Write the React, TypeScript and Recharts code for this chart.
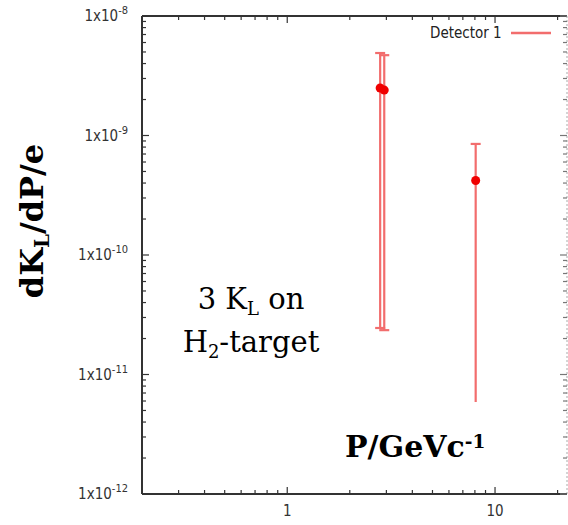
import React from "react";
import {
  ScatterChart,
  Scatter,
  XAxis,
  YAxis,
  ErrorBar,
  ReferenceLine,
} from "recharts";

// ---------- data ----------

const momentum = [2.8, 2.93, 8.07];
const flux = [2.5e-9, 2.4e-9, 4.2e-10];
const fluxHigh = [4.9e-9, 4.7e-9, 8.5e-10];
const fluxLow = [2.45e-11, 2.35e-11, 3e-12];

const xTicks = [0.3, 0.4, 0.5, 0.6, 0.7, 0.8, 0.9, 1, 2, 3, 4, 5, 6, 7, 8, 9, 10, 20];
const yDecades = [1e-12, 1e-11, 1e-10, 1e-9, 1e-8];
const yTicks = yDecades.flatMap((d, i) =>
  i === yDecades.length - 1 ? [d] : [1, 2, 3, 4, 5, 6, 7, 8, 9].map((m) => m * d)
);

const X_DOMAIN = [0.2, 22.2];
const Y_DOMAIN = [1e-12, 1e-8];

// ---------- layout ----------

const W = 568;
const H = 525;
const PLOT_LEFT = 142;
const PLOT_TOP = 16;
const PLOT_RIGHT = 567;
const PLOT_BOTTOM = 494;
const Y_AXIS_W = 60;
const X_AXIS_H = 30;

const ERR_COLOR = "#f26d6d";
const DOT_COLOR = "#f00000";
const AXIS_COLOR = "#333";
const TICK_FONT = "'DejaVu Sans Condensed', 'DejaVu Sans', sans-serif";

const data = momentum.map((p, i) => ({
  p,
  flux: flux[i],
  err: [flux[i] - fluxLow[i], fluxHigh[i] - flux[i]],
}));

const isMajor = (v: number) => {
  const l = Math.log10(v);
  return Math.abs(l - Math.round(l)) < 1e-6;
};

function XTick({ x, payload }: any) {
  const major = isMajor(payload.value);
  const len = major ? 7 : 4;
  return (
    <g>
      <line x1={x} x2={x} y1={PLOT_BOTTOM} y2={PLOT_BOTTOM - len} stroke={AXIS_COLOR} strokeWidth={1.2} />
      <line x1={x} x2={x} y1={PLOT_TOP} y2={PLOT_TOP + len} stroke={AXIS_COLOR} strokeWidth={1.2} />
      {major && (
        <text x={x} y={PLOT_BOTTOM + 22} textAnchor="middle" fontSize={15} fill="#333" fontFamily={TICK_FONT}>
          {payload.value}
        </text>
      )}
    </g>
  );
}

function YTick({ y, payload }: any) {
  const major = isMajor(payload.value);
  const len = major ? 7 : 4;
  const exp = Math.round(Math.log10(payload.value));
  return (
    <g>
      <line x1={PLOT_LEFT} x2={PLOT_LEFT + len} y1={y} y2={y} stroke={AXIS_COLOR} strokeWidth={1.2} />
      <line x1={PLOT_RIGHT} x2={PLOT_RIGHT - len} y1={y} y2={y} stroke="#777" strokeWidth={1.2} />
      {major && (
        <text x={128} y={y + 5} textAnchor="end" fontSize={15} fill="#333" fontFamily={TICK_FONT}>
          1x10
          <tspan dy={-7} fontSize={11}>
            {exp}
          </tspan>
        </text>
      )}
    </g>
  );
}

export default function App() {
  return (
    <div style={{ position: "absolute", left: 0, top: 0, width: W, height: H, background: "#fff" }}>
      <ScatterChart
        width={W}
        height={H}
        margin={{
          top: PLOT_TOP,
          right: W - PLOT_RIGHT,
          bottom: H - PLOT_BOTTOM - X_AXIS_H,
          left: PLOT_LEFT - Y_AXIS_W,
        }}
      >
        <XAxis
          type="number"
          dataKey="p"
          scale="log"
          domain={X_DOMAIN}
          ticks={xTicks}
          interval={0}
          allowDataOverflow
          height={X_AXIS_H}
          tickLine={false}
          axisLine={{ stroke: AXIS_COLOR, strokeWidth: 2 }}
          tick={<XTick />}
        />
        <YAxis
          type="number"
          dataKey="flux"
          scale="log"
          domain={Y_DOMAIN}
          ticks={yTicks}
          interval={0}
          allowDataOverflow
          width={Y_AXIS_W}
          tickLine={false}
          axisLine={{ stroke: AXIS_COLOR, strokeWidth: 2 }}
          tick={<YTick />}
        />
        <ReferenceLine y={Y_DOMAIN[1]} stroke={AXIS_COLOR} strokeWidth={2} />
        <ReferenceLine x={X_DOMAIN[1]} stroke="#aaa" strokeDasharray="2 2" />
        <Scatter
          data={data}
          fill={DOT_COLOR}
          isAnimationActive={false}
          shape={(props: any) => <circle cx={props.cx} cy={props.cy} r={4.5} fill={DOT_COLOR} />}
        >
          <ErrorBar dataKey="err" direction="y" stroke={ERR_COLOR} strokeWidth={2.2} width={5} isAnimationActive={false} />
        </Scatter>
      </ScatterChart>

      {/* legend */}
      <div
        style={{
          position: "absolute",
          left: 430,
          top: 24,
          display: "flex",
          alignItems: "center",
          fontFamily: TICK_FONT,
          fontSize: 15,
          color: "#222",
          whiteSpace: "nowrap",
        }}
      >
        <span>Detector 1</span>
        <svg width={44} height={10} style={{ marginLeft: 8 }}>
          <line x1={1} x2={41} y1={5} y2={5} stroke={ERR_COLOR} strokeWidth={2.5} />
        </svg>
      </div>

      {/* y axis title */}
      <div
        style={{
          position: "absolute",
          left: -68,
          top: 201,
          width: 200,
          height: 40,
          lineHeight: "40px",
          textAlign: "center",
          transform: "rotate(-90deg)",
          fontFamily: "DejaVu Serif",
          fontWeight: "bold",
          fontSize: 32,
          color: "#000",
          whiteSpace: "nowrap",
        }}
      >
        dK<sub style={{ fontSize: "0.62em", verticalAlign: "-0.3em", lineHeight: 0 }}>L</sub>/dP/e
      </div>

      {/* annotation */}
      <div
        style={{
          position: "absolute",
          left: 151,
          top: 278,
          width: 200,
          textAlign: "center",
          fontFamily: "DejaVu Serif",
          fontSize: 29,
          lineHeight: "43px",
          color: "#000",
          whiteSpace: "nowrap",
        }}
      >
        <div>
          3 K<sub style={{ fontSize: "0.62em", verticalAlign: "-0.35em", lineHeight: 0 }}>L</sub> on
        </div>
        <div>
          H<sub style={{ fontSize: "0.62em", verticalAlign: "-0.35em", lineHeight: 0 }}>2</sub>-target
        </div>
      </div>

      {/* x axis title on a white patch */}
      <div
        style={{
          position: "absolute",
          left: 335,
          top: 402,
          width: 160,
          height: 78,
          background: "#fff",
        }}
      >
        <div
          style={{
            position: "absolute",
            left: 10,
            top: 25,
            fontFamily: "DejaVu Serif",
            fontWeight: "bold",
            fontSize: 30,
            lineHeight: "40px",
            color: "#000",
            whiteSpace: "nowrap",
          }}
        >
          P/GeVc<sup style={{ fontSize: "0.62em", verticalAlign: "0.5em", lineHeight: 0 }}>-1</sup>
        </div>
      </div>
    </div>
  );
}
